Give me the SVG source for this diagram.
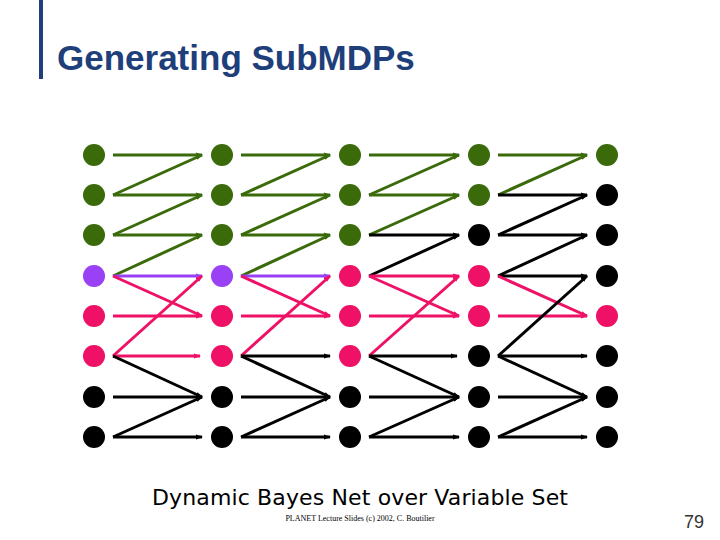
<svg xmlns="http://www.w3.org/2000/svg" width="720" height="540" viewBox="0 0 720 540">
<style>
line{stroke-width:3}
.g{stroke:#3a6a0a;marker-end:url(#mg)}
.p{stroke:#9a40f5;marker-end:url(#mp)}
.k{stroke:#ee1166;marker-end:url(#mk)}
.b{stroke:#000;marker-end:url(#mb)}
.G{fill:#3a6a0a}.P{fill:#9a40f5}.K{fill:#ee1166}.B{fill:#000}
</style>
<defs>
<marker id="mg" markerWidth="7" markerHeight="6" refX="6" refY="3" orient="auto" markerUnits="userSpaceOnUse"><path d="M0,0.5L7,3L0,5.5z" fill="#3a6a0a"/></marker>
<marker id="mp" markerWidth="7" markerHeight="6" refX="6" refY="3" orient="auto" markerUnits="userSpaceOnUse"><path d="M0,0.5L7,3L0,5.5z" fill="#9a40f5"/></marker>
<marker id="mk" markerWidth="7" markerHeight="6" refX="6" refY="3" orient="auto" markerUnits="userSpaceOnUse"><path d="M0,0.5L7,3L0,5.5z" fill="#ee1166"/></marker>
<marker id="mb" markerWidth="7" markerHeight="6" refX="6" refY="3" orient="auto" markerUnits="userSpaceOnUse"><path d="M0,0.5L7,3L0,5.5z" fill="#000"/></marker>
</defs>
<rect width="720" height="540" fill="#fff"/>
<rect x="39" y="0" width="4" height="79" fill="#1f3f7a"/>
<text x="57" y="70" font-family="Liberation Sans, Arial, sans-serif" font-weight="bold" font-size="35" fill="#1f3f7a">Generating SubMDPs</text>
<g id="connectors">
<line class="g" x1="113" y1="155" x2="202" y2="155"/>
<line class="g" x1="113" y1="195" x2="202" y2="155"/>
<line class="g" x1="113" y1="195" x2="202" y2="195"/>
<line class="g" x1="113" y1="235" x2="202" y2="195"/>
<line class="g" x1="113" y1="235" x2="202" y2="235"/>
<line class="g" x1="113" y1="276" x2="202" y2="235"/>
<line class="p" x1="113" y1="276" x2="202" y2="276"/>
<line class="k" x1="113" y1="276" x2="202" y2="316"/>
<line class="k" x1="113" y1="316" x2="202" y2="316"/>
<line class="k" x1="113" y1="356" x2="202" y2="276"/>
<line class="k" x1="113" y1="356" x2="200" y2="356"/>
<line class="b" x1="113" y1="356" x2="202" y2="397"/>
<line class="b" x1="113" y1="397" x2="202" y2="397"/>
<line class="b" x1="113" y1="437" x2="202" y2="397"/>
<line class="b" x1="113" y1="437" x2="202" y2="437"/>

<line class="g" x1="241" y1="155" x2="330" y2="155"/>
<line class="g" x1="241" y1="195" x2="330" y2="155"/>
<line class="g" x1="241" y1="195" x2="330" y2="195"/>
<line class="g" x1="241" y1="235" x2="330" y2="195"/>
<line class="g" x1="241" y1="235" x2="330" y2="235"/>
<line class="g" x1="241" y1="276" x2="330" y2="235"/>
<line class="p" x1="241" y1="276" x2="330" y2="276"/>
<line class="k" x1="241" y1="276" x2="330" y2="316"/>
<line class="k" x1="241" y1="316" x2="330" y2="316"/>
<line class="k" x1="241" y1="356" x2="330" y2="276"/>
<line class="b" x1="241" y1="356" x2="330" y2="356"/>
<line class="b" x1="241" y1="356" x2="330" y2="397"/>
<line class="b" x1="241" y1="397" x2="330" y2="397"/>
<line class="b" x1="241" y1="437" x2="330" y2="397"/>
<line class="b" x1="241" y1="437" x2="330" y2="437"/>

<line class="g" x1="369" y1="155" x2="459" y2="155"/>
<line class="g" x1="369" y1="195" x2="459" y2="155"/>
<line class="g" x1="369" y1="195" x2="459" y2="195"/>
<line class="g" x1="369" y1="235" x2="459" y2="195"/>
<line class="b" x1="369" y1="235" x2="459" y2="235"/>
<line class="b" x1="369" y1="276" x2="459" y2="235"/>
<line class="k" x1="369" y1="276" x2="459" y2="276"/>
<line class="k" x1="369" y1="276" x2="459" y2="316"/>
<line class="k" x1="369" y1="316" x2="459" y2="316"/>
<line class="k" x1="369" y1="356" x2="459" y2="276"/>
<line class="b" x1="369" y1="356" x2="457" y2="356"/>
<line class="b" x1="369" y1="356" x2="459" y2="397"/>
<line class="b" x1="369" y1="397" x2="459" y2="397"/>
<line class="b" x1="369" y1="437" x2="459" y2="397"/>
<line class="b" x1="369" y1="437" x2="459" y2="437"/>

<line class="g" x1="498" y1="155" x2="587" y2="155"/>
<line class="g" x1="498" y1="195" x2="587" y2="155"/>
<line class="b" x1="498" y1="195" x2="587" y2="195"/>
<line class="b" x1="498" y1="235" x2="587" y2="195"/>
<line class="b" x1="498" y1="235" x2="587" y2="235"/>
<line class="b" x1="498" y1="276" x2="587" y2="235"/>
<line class="b" x1="498" y1="276" x2="587" y2="276"/>
<line class="k" x1="498" y1="276" x2="587" y2="316"/>
<line class="k" x1="498" y1="316" x2="587" y2="316"/>
<line class="b" x1="498" y1="356" x2="587" y2="276"/>
<line class="b" x1="498" y1="356" x2="587" y2="356"/>
<line class="b" x1="498" y1="356" x2="587" y2="397"/>
<line class="b" x1="498" y1="397" x2="587" y2="397"/>
<line class="b" x1="498" y1="437" x2="587" y2="397"/>
<line class="b" x1="498" y1="437" x2="587" y2="437"/>
</g>
<g id="col1">
<circle class="G" cx="94" cy="155" r="11"/><circle class="G" cx="94" cy="195" r="11"/><circle class="G" cx="94" cy="235" r="11"/><circle class="P" cx="94" cy="276" r="11"/><circle class="K" cx="94" cy="316" r="11"/><circle class="K" cx="94" cy="356" r="11"/><circle class="B" cx="94" cy="397" r="11"/><circle class="B" cx="94" cy="437" r="11"/>
</g>
<g id="col2">
<circle class="G" cx="222" cy="155" r="11"/><circle class="G" cx="222" cy="195" r="11"/><circle class="G" cx="222" cy="235" r="11"/><circle class="P" cx="222" cy="276" r="11"/><circle class="K" cx="222" cy="316" r="11"/><circle class="K" cx="222" cy="356" r="11"/><circle class="B" cx="222" cy="397" r="11"/><circle class="B" cx="222" cy="437" r="11"/>
</g>
<g id="col3">
<circle class="G" cx="350" cy="155" r="11"/><circle class="G" cx="350" cy="195" r="11"/><circle class="G" cx="350" cy="235" r="11"/><circle class="K" cx="350" cy="276" r="11"/><circle class="K" cx="350" cy="316" r="11"/><circle class="K" cx="350" cy="356" r="11"/><circle class="B" cx="350" cy="397" r="11"/><circle class="B" cx="350" cy="437" r="11"/>
</g>
<g id="col4">
<circle class="G" cx="479" cy="155" r="11"/><circle class="G" cx="479" cy="195" r="11"/><circle class="B" cx="479" cy="235" r="11"/><circle class="K" cx="479" cy="276" r="11"/><circle class="K" cx="479" cy="316" r="11"/><circle class="B" cx="479" cy="356" r="11"/><circle class="B" cx="479" cy="397" r="11"/><circle class="B" cx="479" cy="437" r="11"/>
</g>
<g id="col5">
<circle class="G" cx="607" cy="155" r="11"/><circle class="B" cx="607" cy="195" r="11"/><circle class="B" cx="607" cy="235" r="11"/><circle class="B" cx="607" cy="276" r="11"/><circle class="K" cx="607" cy="316" r="11"/><circle class="B" cx="607" cy="356" r="11"/><circle class="B" cx="607" cy="397" r="11"/><circle class="B" cx="607" cy="437" r="11"/>
</g>
<text x="152" y="505" font-family="DejaVu Sans, sans-serif" font-size="22" textLength="416" fill="#000">Dynamic Bayes Net over Variable Set</text>
<text x="360" y="521" text-anchor="middle" font-family="Liberation Serif, serif" font-size="8" fill="#000">PLANET Lecture Slides (c) 2002, C. Boutilier</text>
<text x="694" y="528" text-anchor="middle" font-family="Liberation Sans, Arial, sans-serif" font-size="18" fill="#333">79</text>
</svg>
